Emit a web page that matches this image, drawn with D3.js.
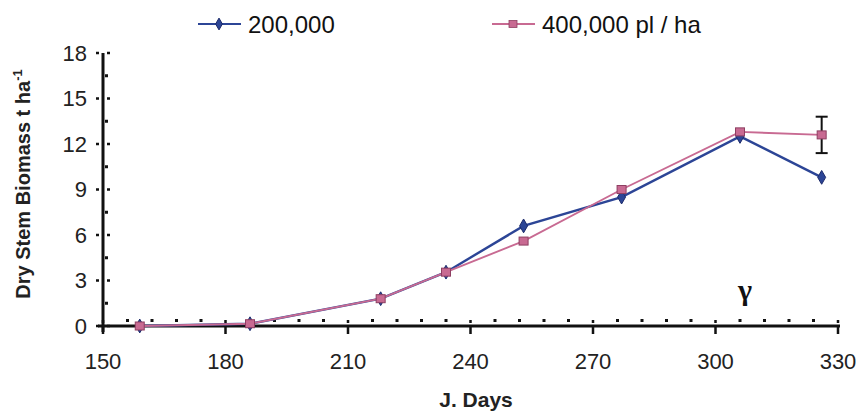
<!DOCTYPE html>
<html>
<head>
<meta charset="utf-8">
<script src="https://cdn.jsdelivr.net/npm/d3@7"></script>
<style>
  html, body { margin: 0; padding: 0; background: #fff; }
  svg { display: block; font-family: "Liberation Sans", Arial, sans-serif; }
</style>
</head>
<body>
<svg id="chart" width="867" height="415"></svg>
<script>
// Julian days of each sampling date
const days200 = [159, 186, 218, 234, 253, 277, 306, 326];
const days400 = [159, 186, 218, 234, 253, 277, 306, 326];
// Dry stem biomass (t/ha)
const biomass200 = [0, 0.15, 1.8, 3.55, 6.6, 8.5, 12.5, 9.8];
const biomass400 = [0, 0.15, 1.8, 3.55, 5.6, 9.0, 12.8, 12.6];
// Error bar on the last 400,000 pl/ha sample
const errDay = 326, errCenter = 12.6, errHalf = 1.2;
const seriesNames = ["200,000", "400,000 pl / ha"];
const yTicks = [0, 3, 6, 9, 12, 15, 18];
const xTicks = [150, 180, 210, 240, 270, 300, 330];

const colBlue = "#2c4596", colBlueDark = "#1c2a6a";
const colPink = "#c86a92", colPinkDark = "#8e3f62";

const svg = d3.select("#chart");
const x = d3.scaleLinear().domain([150, 330]).range([103, 838]);
const y = d3.scaleLinear().domain([0, 18]).range([326, 53]);

// Axes lines
const g = svg.append("g");
g.append("line").attr("x1", x(150)).attr("x2", x(150)).attr("y1", y(18)).attr("y2", y(0) + 6)
  .attr("stroke", "#111").attr("stroke-width", 3);
g.append("line").attr("x1", x(150) - 5).attr("x2", x(330) + 2).attr("y1", y(0)).attr("y2", y(0))
  .attr("stroke", "#111").attr("stroke-width", 3.2);

// y ticks: major dots on both sides, minor dots on the right
yTicks.forEach(v => {
  g.append("line").attr("x1", x(150) - 7).attr("x2", x(150) + 7).attr("y1", y(v)).attr("y2", y(v))
    .attr("stroke", "#111").attr("stroke-width", 2.5).attr("stroke-dasharray", "3,8,3");
  g.append("text").attr("x", x(150) - 16).attr("y", y(v) + 7.5).attr("text-anchor", "end")
    .attr("font-size", 22).attr("fill", "#222").text(v);
});
d3.range(1.5, 18, 3).forEach(v => {
  g.append("rect").attr("x", x(150) + 2).attr("y", y(v) - 1.5).attr("width", 3).attr("height", 3).attr("fill", "#111");
});

// x ticks: major crossing the axis, minor dots above it (every 6 days)
xTicks.forEach(v => {
  g.append("line").attr("x1", x(v)).attr("x2", x(v)).attr("y1", y(0) - 6).attr("y2", y(0) + 8)
    .attr("stroke", "#111").attr("stroke-width", 2.5).attr("stroke-dasharray", "3,3,8");
  g.append("text").attr("x", x(v)).attr("y", 369).attr("text-anchor", "middle")
    .attr("font-size", 22).attr("fill", "#222").text(v);
});
d3.range(150, 330, 6).filter(v => (v - 150) % 30 !== 0).forEach(v => {
  g.append("rect").attr("x", x(v) - 1.5).attr("y", y(0) - 7).attr("width", 3).attr("height", 3).attr("fill", "#111");
});

// Axis titles
svg.append("text").attr("x", 476).attr("y", 407).attr("text-anchor", "middle")
  .attr("font-size", 21).attr("font-weight", "bold").attr("fill", "#222").text("J. Days");
const yt = svg.append("text").attr("transform", "translate(30,184) rotate(-90)")
  .attr("text-anchor", "middle").attr("font-size", 20).attr("font-weight", "bold").attr("fill", "#222");
yt.append("tspan").text("Dry Stem Biomass t ha");
yt.append("tspan").attr("font-size", 13).attr("dy", -8).text("-1");

// Series
const line = d3.line().x(d => x(d[0])).y(d => y(d[1]));
const pts200 = days200.map((d, i) => [d, biomass200[i]]);
const pts400 = days400.map((d, i) => [d, biomass400[i]]);

svg.append("path").datum(pts200).attr("d", line).attr("fill", "none")
  .attr("stroke", colBlue).attr("stroke-width", 2.4);
svg.append("path").datum(pts400).attr("d", line).attr("fill", "none")
  .attr("stroke", colPink).attr("stroke-width", 1.9);

// Error bar
const eb = svg.append("g").attr("stroke", "#111").attr("stroke-width", 2);
eb.append("line").attr("x1", x(errDay)).attr("x2", x(errDay)).attr("y1", y(errCenter + errHalf)).attr("y2", y(errCenter - errHalf));
[errCenter + errHalf, errCenter - errHalf].forEach(v =>
  eb.append("line").attr("x1", x(errDay) - 6).attr("x2", x(errDay) + 6).attr("y1", y(v)).attr("y2", y(v)));

const diamond = d3.symbol().type(d3.symbolDiamond).size(55);
svg.append("g").selectAll("path").data(pts200).join("path")
  .attr("d", diamond).attr("transform", d => `translate(${x(d[0])},${y(d[1])})`)
  .attr("fill", colBlue).attr("stroke", colBlueDark).attr("stroke-width", 1);
svg.append("g").selectAll("rect").data(pts400).join("rect")
  .attr("x", d => x(d[0]) - 4.5).attr("y", d => y(d[1]) - 4).attr("width", 9).attr("height", 8)
  .attr("fill", colPink).attr("stroke", colPinkDark).attr("stroke-width", 1);

// Annotation
svg.append("text").attr("x", 745).attr("y", 300).attr("text-anchor", "middle")
  .attr("font-family", "'Liberation Serif', 'Times New Roman', serif")
  .attr("font-size", 30).attr("font-weight", "bold").attr("fill", "#111").text("γ");

// Legend
const leg = svg.append("g");
const legItems = [
  {name: seriesNames[0], x0: 198, col: colBlue, dark: colBlueDark, sym: "diamond"},
  {name: seriesNames[1], x0: 492, col: colPink, dark: colPinkDark, sym: "square"}
];
legItems.forEach(it => {
  leg.append("line").attr("x1", it.x0).attr("x2", it.x0 + 43).attr("y1", 24).attr("y2", 24)
    .attr("stroke", it.col).attr("stroke-width", 2);
  if (it.sym === "diamond") {
    leg.append("path").attr("d", d3.symbol().type(d3.symbolDiamond).size(40)())
      .attr("transform", `translate(${it.x0 + 21},24)`).attr("fill", it.col).attr("stroke", it.dark);
  } else {
    leg.append("rect").attr("x", it.x0 + 17).attr("y", 20.5).attr("width", 8).attr("height", 7)
      .attr("fill", it.col).attr("stroke", it.dark).attr("stroke-width", 0.8);
  }
  leg.append("text").attr("x", it.x0 + 50).attr("y", 32.5).attr("font-size", 24).attr("fill", "#111").text(it.name);
});
</script>
</body>
</html>
